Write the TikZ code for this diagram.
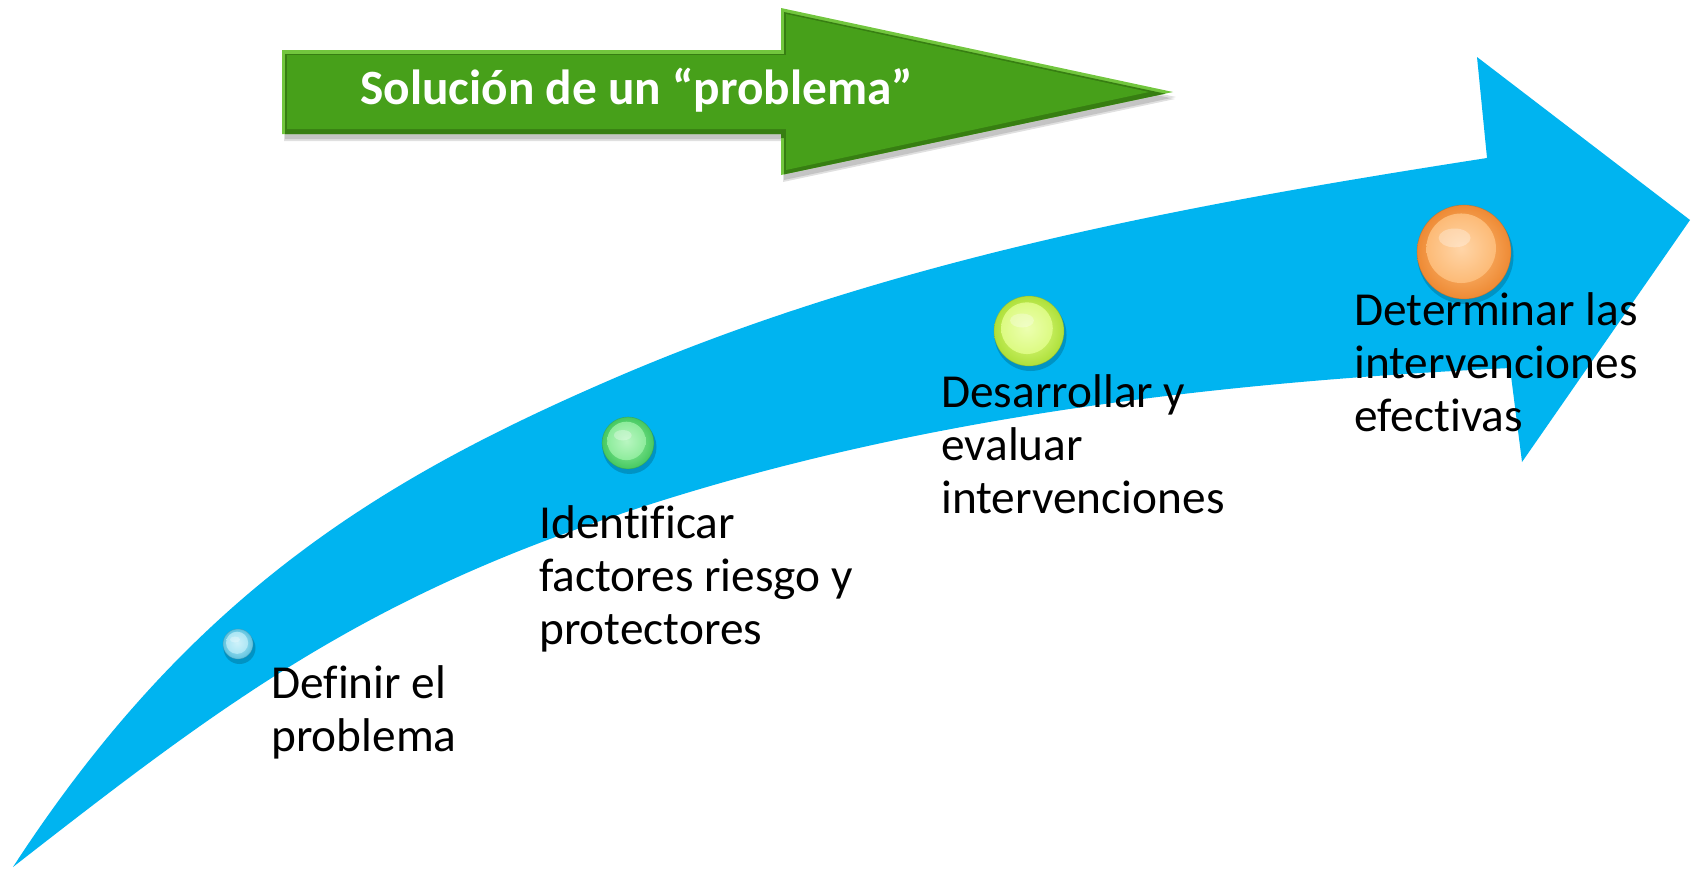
\documentclass[tikz,border=0pt]{standalone}
\usepackage{fontspec}
\setmainfont{Carlito}[Ligatures=NoCommon]
\definecolor{arrowblue}{HTML}{00B4F0}
\definecolor{grface}{HTML}{47A01A}
\definecolor{grlight}{HTML}{72C63E}
\definecolor{grdark}{HTML}{377E12}
\definecolor{bRim}{HTML}{5FC3DF}\definecolor{bFace}{HTML}{B8ECF8}
\definecolor{gRim}{HTML}{45C860}\definecolor{gFace}{HTML}{9AF2A6}
\definecolor{yRim}{HTML}{AEE03A}\definecolor{yFace}{HTML}{E4FF8E}
\definecolor{oRim}{HTML}{EE8A34}\definecolor{oFace}{HTML}{FFC382}
\newcommand\glossball[5]{%
  \fill[black,opacity=.18] (#1+1.5,#2+4) circle[radius=#3+1];
  \shade[inner color=#5, outer color=#4] (#1,#2) circle[radius=#3];
  \shade[inner color=#5!70!white, outer color=#5!85!#4] (#1-0.06*#3,#2-0.08*#3) circle[radius=0.74*#3];
  \draw[#4!75!black, line width=0.5pt, opacity=.45] (#1,#2) circle[radius=#3];
  \fill[white,opacity=.3] (#1-0.2*#3,#2-0.3*#3) ellipse[x radius=0.34*#3, y radius=0.2*#3];
}
\begin{document}
\begin{tikzpicture}[x=0.75pt,y=-0.75pt,
  greenshape/.style={insert path={(282,50) -- (781,50) -- (781,8) -- (1173,92) -- (781,175) -- (781,134) -- (282,134) -- cycle}},
  lbl/.style={anchor=base west, inner sep=0pt, text=black,
              font=\fontsize{35.5}{39.75}\selectfont},
  title/.style={anchor=base west, inner sep=0pt, text=white,
              font=\bfseries\fontsize{37}{44}\selectfont}]
\useasboundingbox[fill=white] (0,0) rectangle (1694,868);

% green arrow
\fill[black,opacity=.12, shift={(2,7)}, greenshape];
\fill[black,opacity=.12, shift={(3,5)}, greenshape];
\begin{scope}
  \clip[greenshape];
  \fill[grlight, greenshape];
  \fill[grdark, shift={(3,4)}, greenshape];
  \fill[grface] (287,55) -- (786,55) -- (786,14) -- (1149,92) -- (786,170) -- (786,129) -- (287,129) -- cycle;
\end{scope}
\node[title] (t0) at (360,104) {Solución de un “problema”};

% blue curved arrow
\fill[arrowblue] (13,867) .. controls (193,590) and (387,476) .. (617,377)
  .. controls (893,258.5) and (1191,204) .. (1487,158)
  -- (1477,57) -- (1690,220) -- (1522,462) -- (1510,368)
  .. controls (1180,384) and (850.5,425) .. (542,542)
  .. controls (327,624) and (194.5,725.5) .. (13,867) -- cycle;

% balls
\glossball{238}{644}{15}{bRim}{bFace}
\glossball{628}{443}{26}{gRim}{gFace}
\glossball{1029}{331}{35}{yRim}{yFace}
\glossball{1464}{252}{47}{oRim}{oFace}

% labels
\node[lbl] (s1) at (271,698) {\vtop{\hbox{Definir el}\hbox{problema}}};
\node[lbl] (s2) at (539,538) {\vtop{\hbox{Identificar}\hbox{factores riesgo y}\hbox{protectores}}};
\node[lbl] (s3) at (941,407) {\vtop{\hbox{Desarrollar y}\hbox{evaluar}\hbox{intervenciones}}};
\node[lbl] (s4) at (1354,325) {\vtop{\hbox{Determinar las}\hbox{intervenciones}\hbox{efectivas}}};
\end{tikzpicture}
\end{document}
